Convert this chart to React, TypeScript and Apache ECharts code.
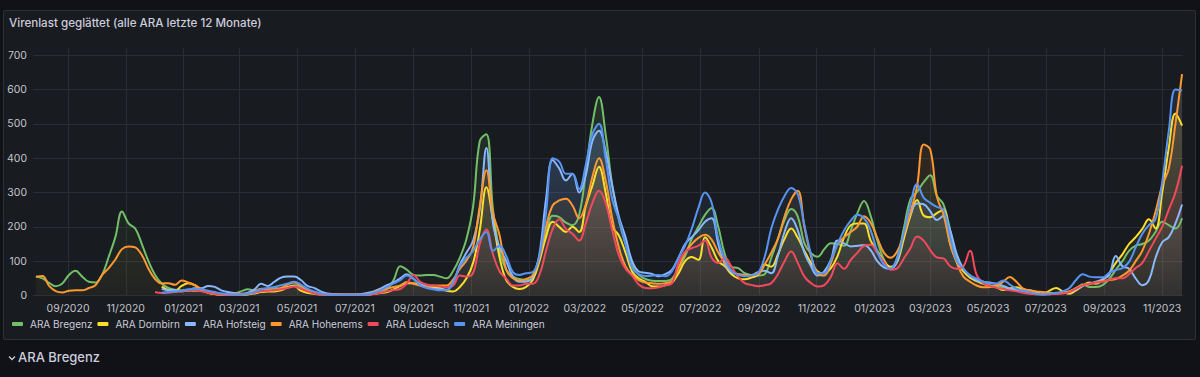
import React, { useEffect, useRef } from "react";
import * as echarts from "echarts";

// First sample date (29 Jul 2020) and sampling step in days
const START_YEAR = 2020;
const START_MONTH = 6; // July (0-based)
const START_DAY = 29;
const STEP_DAYS = 7;

const tickLabels = [
  "09/2020", "11/2020", "01/2021", "03/2021", "05/2021", "07/2021", "09/2021",
  "11/2021", "01/2022", "03/2022", "05/2022", "07/2022", "09/2022", "11/2022",
  "01/2023", "03/2023", "05/2023", "07/2023", "09/2023", "11/2023",
];

const seriesNames = [
  "ARA Bregenz", "ARA Dornbirn", "ARA Hofsteig", "ARA Hohenems", "ARA Ludesch", "ARA Meiningen",
];
const seriesColors = ["#73BF69", "#FADE2A", "#8AB8FF", "#FF9830", "#F2495C", "#5794F2"];

const bregenzStart = 0;
const bregenz = [
  55, 50, 37, 27, 35, 60, 72, 55, 40, 38,
  60, 113, 170, 245, 210, 195, 150, 100, 60, 35,
  22, 17, 15, 14, 13, 15, 12, 8, 5, 4,
  6, 12, 18, 14, 12, 18, 22, 20, 25, 30,
  25, 15, 10, 6, 4, 3, 3, 3, 3, 3,
  3, 5, 10, 18, 45, 85, 75, 60, 58, 60,
  60, 55, 50, 72, 110, 165, 260, 450, 470, 250,
  130, 75, 55, 48, 45, 50, 110, 180, 232, 228,
  212, 205, 235, 360, 500, 578, 470, 320, 220, 150,
  87, 60, 48, 43, 42, 42, 48, 80, 115, 165,
  200, 235, 255, 200, 120, 84, 80, 65, 60, 58,
  62, 110, 165, 220, 252, 230, 152, 123, 113, 135,
  152, 150, 145, 190, 240, 275, 232, 160, 105, 80,
  110, 195, 280, 302, 330, 350, 290, 265, 190, 105,
  75, 58, 48, 40, 30, 25, 24, 20, 15, 10,
  8, 4, 4, 5, 6, 8, 12, 20, 33, 25,
  25, 30, 48, 75, 100, 130, 145, 150, 160, 185,
  215, 205, 195, 225,
];

const dornbirnStart = 19;
const dornbirn = [
  26,
  16, 14, 28, 36, 30, 15, 8, 4, 3, 2,
  2, 2, 3, 6, 10, 12, 12, 15, 24, 28,
  14, 8, 5, 3, 2, 2, 2, 2, 2, 2,
  2, 5, 7, 10, 18, 28, 36, 36, 30, 26,
  24, 22, 14, 12, 25, 50, 95, 190, 315, 220,
  110, 45, 25, 19, 25, 45, 100, 170, 215, 200,
  185, 200, 185, 260, 320, 375, 300, 200, 175, 125,
  70, 50, 40, 27, 26, 30, 37, 65, 100, 112,
  104, 170, 140, 100, 85, 62, 50, 47, 52, 60,
  90, 84, 120, 165, 195, 168, 130, 95, 70, 65,
  80, 115, 170, 205, 210, 210, 160, 130, 100, 84,
  98, 165, 232, 278, 233, 228, 240, 250, 150, 100,
  70, 52, 42, 34, 28, 24, 16, 20, 24, 18,
  15, 10, 5, 14, 22, 12, 5, 15, 28, 38,
  34, 45, 65, 95, 120, 150, 170, 194, 222, 195,
  300, 430, 530, 495,
];

const hofsteigStart = 19;
const hofsteig = [
  20,
  15, 16, 12, 15, 21, 21, 28, 25, 15, 10,
  7, 5, 8, 18, 34, 28, 40, 52, 55, 55,
  45, 28, 22, 12, 6, 4, 3, 2, 2, 4,
  7, 12, 20, 30, 38, 50, 62, 48, 34, 25,
  20, 18, 17, 38, 90, 125, 160, 250, 430, 210,
  140, 100, 55, 40, 40, 55, 120, 280, 395, 370,
  335, 355, 300, 350, 450, 480, 420, 320, 230, 170,
  100, 70, 66, 63, 56, 62, 75, 110, 150, 170,
  190, 215, 225, 150, 90, 68, 62, 60, 60, 68,
  72, 65, 115, 185, 225, 190, 125, 85, 58, 70,
  104, 160, 152, 143, 145, 147, 132, 100, 82, 78,
  100, 182, 238, 268, 266, 245, 220, 232, 190, 120,
  78, 58, 44, 39, 38, 33, 28, 20, 15, 12,
  8, 6, 4, 4, 6, 8, 10, 18, 28, 35,
  40, 48, 60, 115, 85, 78, 50, 30, 45, 110,
  155, 170, 210, 265,
];

const hohenemsStart = 0;
const hohenems = [
  55, 57, 28, 13, 9, 14, 15, 15, 22, 30,
  60, 80, 105, 135, 143, 140, 118, 78, 48, 35,
  36, 31, 44, 38, 30, 18, 8, 4, 2, 2,
  2, 4, 5, 12, 20, 18, 15, 22, 32, 38,
  28, 16, 8, 4, 2, 2, 2, 2, 2, 2,
  2, 10, 16, 20, 25, 29, 39, 34, 29, 24,
  29, 29, 29, 47, 78, 102, 140, 260, 365, 240,
  175, 75, 50, 44, 48, 60, 110, 200, 262, 277,
  282, 262, 225, 265, 345, 400, 335, 225, 140, 85,
  60, 45, 38, 36, 34, 36, 42, 80, 125, 150,
  168, 177, 163, 125, 96, 72, 62, 60, 60, 62,
  90, 125, 165, 230, 280, 305, 200, 115, 65, 58,
  95, 150, 170, 185, 201, 231, 212, 168, 125, 110,
  128, 178, 242, 318, 440, 425, 288, 235, 150, 95,
  55, 40, 29, 24, 25, 29, 40, 54, 40, 20,
  15, 12, 10, 8, 6, 7, 12, 22, 30, 33,
  38, 42, 45, 48, 58, 72, 100, 130, 180, 245,
  320, 370, 500, 645,
];

const ludeschStart = 18;
const ludesch = [
  10, 7,
  8, 10, 12, 15, 15, 12, 8, 5, 3, 2,
  2, 3, 5, 8, 12, 14, 15, 18, 22, 26,
  20, 12, 6, 3, 2, 2, 2, 2, 2, 2,
  2, 4, 8, 12, 16, 19, 35, 60, 40, 32,
  29, 26, 24, 29, 58, 55, 66, 150, 192, 120,
  70, 49, 29, 29, 34, 34, 60, 130, 194, 222,
  194, 180, 160, 210, 270, 305, 270, 190, 117, 78,
  58, 32, 22, 21, 24, 30, 36, 95, 128, 138,
  145, 160, 110, 95, 110, 84, 55, 36, 31, 27,
  30, 36, 62, 100, 128, 95, 55, 36, 26, 30,
  55, 94, 78, 104, 125, 145, 148, 124, 98, 75,
  79, 108, 138, 172, 160, 132, 111, 108, 85, 78,
  85, 130, 60, 36, 28, 23, 19, 15, 12, 8,
  5, 4, 3, 4, 5, 6, 10, 20, 30, 34,
  38, 40, 46, 50, 50, 62, 80, 95, 130, 165,
  200, 250, 300, 378,
];

const meiningenStart = 19;
const meiningen = [
  8,
  10, 12, 14, 18, 20, 18, 14, 10, 6, 4,
  3, 3, 5, 10, 18, 22, 25, 30, 35, 40,
  32, 20, 12, 6, 3, 2, 2, 2, 2, 2,
  3, 8, 15, 25, 35, 45, 58, 50, 30, 22,
  18, 15, 15, 40, 85, 110, 130, 163, 185, 130,
  145, 115, 68, 60, 65, 68, 115, 240, 400, 390,
  355, 355, 310, 380, 470, 500, 400, 280, 222, 150,
  80, 62, 57, 58, 60, 56, 70, 110, 145, 195,
  255, 300, 270, 165, 105, 72, 60, 56, 58, 65,
  112, 195, 250, 290, 313, 295, 205, 120, 65, 65,
  104, 150, 190, 218, 235, 225, 190, 128, 90, 79,
  110, 182, 265, 325, 285, 270, 258, 250, 170, 100,
  78, 58, 49, 40, 36, 35, 44, 32, 20, 14,
  10, 5, 3, 5, 8, 12, 22, 45, 62, 55,
  53, 53, 66, 74, 80, 98, 140, 180, 205, 222,
  330, 480, 600, 597,
];

const seriesValues = [bregenz, dornbirn, hofsteig, hohenems, ludesch, meiningen];
const seriesStarts = [bregenzStart, dornbirnStart, hofsteigStart, hohenemsStart, ludeschStart, meiningenStart];

function sampleTime(i: number): number {
  return new Date(START_YEAR, START_MONTH, START_DAY + STEP_DAYS * i).getTime();
}

function labelToTime(label: string): number {
  const [mm, yyyy] = label.split("/");
  return new Date(Number(yyyy), Number(mm) - 1, 1).getTime();
}

function hexToRgba(hex: string, a: number): string {
  const n = parseInt(hex.slice(1), 16);
  return `rgba(${(n >> 16) & 255},${(n >> 8) & 255},${n & 255},${a})`;
}

export default function App() {
  const ref = useRef<HTMLDivElement>(null);

  useEffect(() => {
    if (!ref.current) return;
    const chart = echarts.init(ref.current, undefined, { renderer: "svg" });
    const tickValues = tickLabels.map(labelToTime);

    const series = seriesNames.map((name, k) => {
      const start = seriesStarts[k];
      const color = seriesColors[k];
      return {
        name,
        type: "line",
        smooth: 0.4,
        showSymbol: false,
        symbol: "none",
        data: seriesValues[k].map((v, j) => [sampleTime(start + j), v]),
        lineStyle: { color, width: 2 },
        itemStyle: { color },
        areaStyle: {
          color: new echarts.graphic.LinearGradient(0, 0, 0, 1, [
            { offset: 0, color: hexToRgba(color, 0.2) },
            { offset: 1, color: hexToRgba(color, 0.04) },
          ]),
        },
        emphasis: { disabled: true },
      };
    });

    chart.setOption({
      animation: false,
      backgroundColor: "transparent",
      grid: { left: 33, right: 17, top: 48, bottom: 81.5 },
      xAxis: {
        type: "value",
        min: new Date(2020, 6, 26).getTime(),
        max: new Date(2023, 10, 23).getTime(),
        axisLine: { show: false },
        axisTick: { show: false, customValues: tickValues },
        axisLabel: {
          customValues: tickValues,
          color: "#c3c4cc",
          fontSize: 10.5,
          fontFamily: "Inter",
          margin: 7,
          formatter: (v: number) => {
            const d = new Date(v);
            const m = String(d.getMonth() + 1).padStart(2, "0");
            return `${m}/${d.getFullYear()}`;
          },
        },
        splitLine: { show: true, lineStyle: { color: "#2a2d33", width: 1 } },
      },
      yAxis: {
        type: "value",
        min: 0,
        max: 721,
        interval: 100,
        axisLine: { show: false },
        axisTick: { show: false },
        axisLabel: {
          color: "#c3c4cc",
          fontSize: 10.5,
          fontFamily: "Inter",
          margin: 6,
          showMaxLabel: false,
          formatter: (v: number) => (v % 100 === 0 ? String(v) : ""),
        },
        splitLine: { show: true, showMaxLine: false, lineStyle: { color: "#2a2d33", width: 1 } },
      },
      legend: {
        left: 12,
        top: 319,
        padding: 0,
        icon: "roundRect",
        itemWidth: 11,
        itemHeight: 4,
        itemGap: 5,
        selectedMode: false,
        textStyle: { color: "#ccccdc", fontSize: 10, fontFamily: "Inter", padding: [0, 0, 0, 2] },
        data: seriesNames,
      },
      series,
    });

    return () => chart.dispose();
  }, []);

  return (
    <div
      style={{
        position: "fixed",
        left: 0,
        top: 0,
        width: 1200,
        height: 377,
        background: "#111217",
        overflow: "hidden",
        fontFamily: "Inter, 'Noto Sans', sans-serif",
      }}
    >
      <div
        style={{
          position: "absolute",
          left: 3,
          top: 10,
          width: 1193,
          height: 330,
          boxSizing: "border-box",
          background: "#181b1f",
          border: "1px solid rgba(204,204,220,0.12)",
          borderRadius: 2,
        }}
      />
      <div
        style={{
          position: "absolute",
          left: 9,
          top: 14,
          fontSize: 11.6,
          fontWeight: 500,
          color: "#ccccdc",
          lineHeight: "18px",
          whiteSpace: "nowrap",
        }}
      >
        Virenlast geglättet (alle ARA letzte 12 Monate)
      </div>
      <div ref={ref} style={{ position: "absolute", left: 0, top: 0, width: 1200, height: 377 }} />
      <svg
        style={{ position: "absolute", left: 8, top: 354 }}
        width={8}
        height={8}
        viewBox="0 0 8 8"
      >
        <polyline points="1,2.5 4,5.5 7,2.5" fill="none" stroke="#ccccdc" strokeWidth={1.3} />
      </svg>
      <div
        style={{
          position: "absolute",
          left: 18,
          top: 347,
          fontSize: 13,
          fontWeight: 500,
          color: "#ccccdc",
          lineHeight: "20px",
          whiteSpace: "nowrap",
        }}
      >
        ARA Bregenz
      </div>
    </div>
  );
}
